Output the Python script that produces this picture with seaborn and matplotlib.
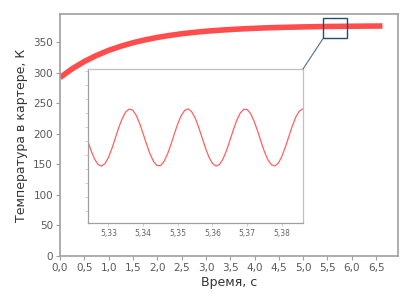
import numpy as np
import pandas as pd
import seaborn as sns
import matplotlib.pyplot as plt
from matplotlib.patches import Rectangle, ConnectionPatch
from matplotlib.ticker import FuncFormatter, MultipleLocator

# main curve: temperature in the crankcase
time_s = [0.0, 0.25, 0.5, 0.75, 1.0, 1.25, 1.5, 1.75, 2.0, 2.25, 2.5, 2.75,
          3.0, 3.25, 3.5, 3.75, 4.0, 4.25, 4.5, 4.75, 5.0, 5.25, 5.5, 5.75,
          6.0, 6.25, 6.5, 6.63]
temp_k = [292.0, 306.4, 318.3, 328.2, 336.5, 343.3, 349.0, 353.7, 357.7,
          360.9, 363.7, 365.9, 367.8, 369.3, 370.6, 371.7, 372.6, 373.4,
          374.0, 374.5, 374.9, 375.3, 375.6, 375.8, 376.0, 376.2, 376.3, 376.4]

# zoomed fragment (inset), ripple of the temperature
zoom_t = [5.324 + 0.001 * i for i in range(63)]
zoom_temp = [375.604, 375.530, 375.470, 375.431, 375.420, 375.438, 375.482,
             375.546, 375.622, 375.698, 375.763, 375.809, 375.829, 375.821,
             375.784, 375.725, 375.652, 375.576, 375.506, 375.453, 375.424,
             375.423, 375.452, 375.504, 375.574, 375.651, 375.724, 375.783,
             375.820, 375.830, 375.810, 375.765, 375.699, 375.624, 375.548,
             375.483, 375.439, 375.420, 375.431, 375.469, 375.528, 375.602,
             375.679, 375.748, 375.800, 375.827, 375.826, 375.796, 375.742,
             375.672, 375.595, 375.522, 375.464, 375.429, 375.421, 375.442,
             375.489, 375.555, 375.631, 375.706, 375.770, 375.813, 375.830]

x_ticks = [0.5 * i for i in range(14)]
inset_ticks = [5.33, 5.34, 5.35, 5.36, 5.37, 5.38]

sns.set_style("white")
plt.rcParams['font.family'] = ['DejaVu Sans']

main_df = pd.DataFrame({'t': time_s, 'T': temp_k})
zoom_df = pd.DataFrame({'t': zoom_t, 'T': zoom_temp})

comma = FuncFormatter(lambda v, pos: f"{v:.1f}".replace('.', ','))
comma2 = FuncFormatter(lambda v, pos: f"{v:.2f}".replace('.', ','))

fig = plt.figure(figsize=(4.11, 2.95), dpi=100)
ax = fig.add_axes([0.146, 0.1322, 0.8224, 0.8203])
sns.lineplot(data=main_df, x='t', y='T', ax=ax, color='#ff4d4d', linewidth=4.0,
             solid_capstyle='butt')

ax.set_xlim(0, 6.95)
ax.set_ylim(0, 396)
ax.set_xticks(x_ticks)
ax.xaxis.set_major_formatter(comma)
ax.yaxis.set_major_locator(MultipleLocator(50))
ax.tick_params(axis='both', labelsize=7.5, labelcolor='#5a5a5a', color='#a0a0a0',
               length=3, width=0.8, direction='out', bottom=True, left=True, pad=2)
for s in ax.spines.values():
    s.set_color('#a0a0a0')
    s.set_linewidth(1.2)
ax.set_xlabel("Время, с", fontsize=9, color='#333333', labelpad=2)
ax.set_ylabel("Температура в картере, К", fontsize=9, color='#333333', labelpad=4)

# box marking the zoomed region
ax.add_patch(Rectangle((5.41, 356), 0.5, 33, fill=False, edgecolor='#1f4e79',
                       linewidth=1.0, zorder=5))

ins = fig.add_axes([0.2141, 0.2441, 0.5231, 0.522])
sns.lineplot(data=zoom_df, x='t', y='T', ax=ins, color='#ff6060', linewidth=0.9)
ins.set_xlim(5.3241, 5.3861)
ins.set_ylim(375.012, 376.116)
ins.set_xticks(inset_ticks)
ins.xaxis.set_major_formatter(comma2)
ins.yaxis.set_major_locator(MultipleLocator(0.1))
ins.set_yticklabels([])
ins.set_xlabel('')
ins.set_ylabel('')
ins.tick_params(axis='both', labelsize=5.5, labelcolor='#666666', color='#c8c8c8',
                length=2, width=0.6, direction='out', bottom=True, left=True, pad=2)
for name, s in ins.spines.items():
    s.set_color('#a0a0a0' if name in ('left', 'bottom') else '#c0c0c0')
    s.set_linewidth(0.9)

con = ConnectionPatch(xyA=(5.41, 356), coordsA=ax.transData,
                      xyB=(1, 1), coordsB=ins.transAxes,
                      color='#4a6f9a', linewidth=0.8)
fig.add_artist(con)

fig.savefig('out.png', dpi=100)
